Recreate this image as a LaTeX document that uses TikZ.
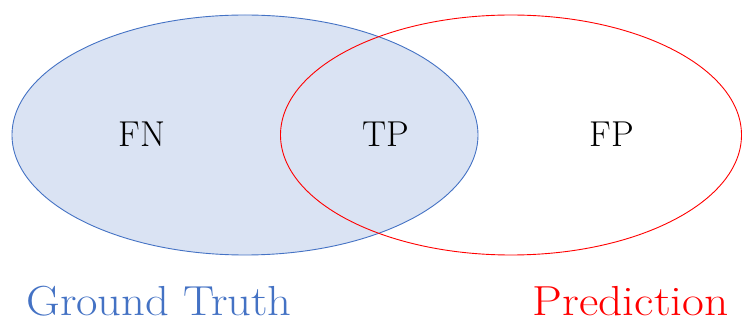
\documentclass[tikz,border=0pt]{standalone}
\usetikzlibrary{shapes.geometric}
\definecolor{gtline}{RGB}{68,114,196}
\definecolor{gtfill}{RGB}{218,227,243}
\definecolor{prline}{RGB}{255,0,0}
\tikzset{
  setshape/.style={ellipse, inner sep=0pt, minimum height=240pt, line width=0.9pt},
  region/.style={font=\fontsize{36}{40}\selectfont, anchor=base},
  caption/.style={font=\fontsize{42}{46}\selectfont, inner sep=0pt}
}
\begin{document}
\begin{tikzpicture}[x=1pt,y=-1pt]
\useasboundingbox (0,0) rectangle (742,320);
\node[setshape, minimum width=466pt, draw=gtline, fill=gtfill] (gt) at (245,135) {};
\node[setshape, minimum width=461pt, draw=prline] (pr) at (511,135) {};
\node[region] (fn) at (142,147) {FN};
\node[region] (tp) at (386,147) {TP};
\node[region] (fp) at (612,147) {FP};
\node[caption, text=gtline, anchor=base west] (gtl) at (26,316) {\scalebox{1.11}[1]{Ground Truth}};
\node[caption, text=prline, anchor=base east] (prl) at (729,316) {\scalebox{1.13}[1]{Prediction}};
\end{tikzpicture}
\end{document}
